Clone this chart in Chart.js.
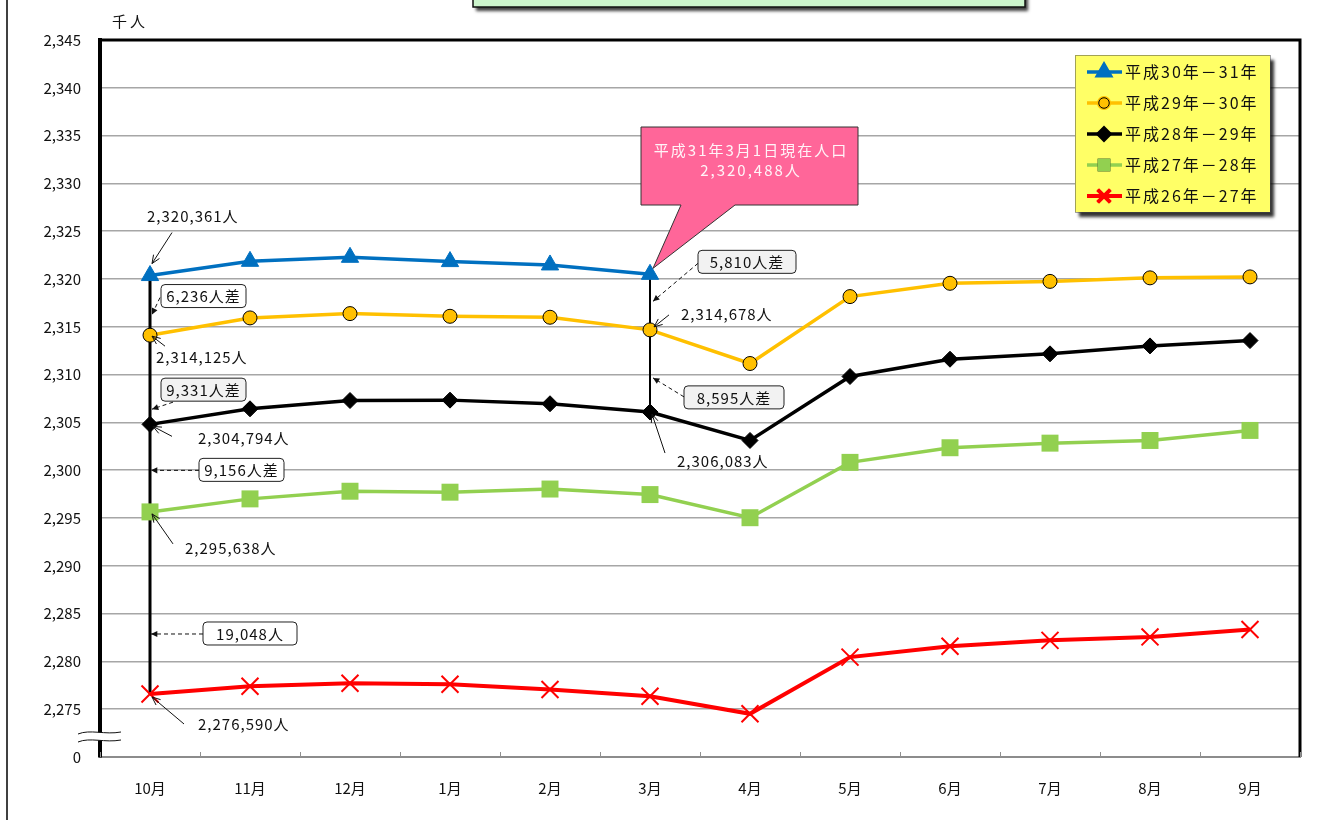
<!DOCTYPE html>
<html lang="ja">
<head>
<meta charset="utf-8">
<title>人口推移</title>
<script src="https://cdn.jsdelivr.net/npm/chart.js@4.4.1/dist/chart.umd.min.js"></script>
<style>
  body { margin: 0; background: #fff; }
  #wrap { position: relative; width: 1342px; height: 820px; }
</style>
</head>
<body>
<div id="wrap"><canvas id="line-chart"></canvas></div>
<script>
// months (Oct -> Sep)
let months = ["10月", "11月", "12月", "1月", "2月", "3月", "4月", "5月", "6月", "7月", "8月", "9月"];
// population in thousands
let h30 = [2320.361, 2321.85, 2322.27, 2321.82, 2321.47, 2320.488];
let h29 = [2314.125, 2315.93, 2316.38, 2316.10, 2316.00, 2314.678, 2311.16, 2318.16, 2319.55, 2319.75, 2320.12, 2320.22];
let h28 = [2304.794, 2306.42, 2307.29, 2307.33, 2306.95, 2306.083, 2303.11, 2309.80, 2311.61, 2312.17, 2313.00, 2313.56];
let h27 = [2295.638, 2297.00, 2297.80, 2297.70, 2298.03, 2297.45, 2295.03, 2300.82, 2302.35, 2302.83, 2303.11, 2304.16];
let h26 = [2276.590, 2277.40, 2277.72, 2277.61, 2277.06, 2276.36, 2274.52, 2280.45, 2281.58, 2282.20, 2282.56, 2283.33];
let seriesNames = ["平成30年－31年", "平成29年－30年", "平成28年－29年", "平成27年－28年", "平成26年－27年"];
let yMin = 2270;
let yMax = 2345;
let yStep = 5;

const FONT = '"Noto Sans CJK JP", "Noto Sans", sans-serif';

let fmt = (n) => n.toLocaleString("en-US");
let people = (v) => fmt(Math.round(v * 1000)) + "人";
let diff = (a, b) => fmt(Math.round((a - b) * 1000)) + "人";

function arrow(ctx, x1, y1, x2, y2, dashed) {
  ctx.save();
  ctx.strokeStyle = "#111";
  ctx.fillStyle = "#111";
  ctx.lineWidth = 1;
  ctx.setLineDash(dashed ? [4, 3] : []);
  ctx.beginPath();
  ctx.moveTo(x1, y1);
  ctx.lineTo(x2, y2);
  ctx.stroke();
  ctx.setLineDash([]);
  let a = Math.atan2(y2 - y1, x2 - x1);
  if (dashed) {
    ctx.beginPath();
    ctx.moveTo(x2, y2);
    ctx.lineTo(x2 - 7 * Math.cos(a - 0.45), y2 - 7 * Math.sin(a - 0.45));
    ctx.lineTo(x2 - 7 * Math.cos(a + 0.45), y2 - 7 * Math.sin(a + 0.45));
    ctx.closePath();
    ctx.fill();
  } else {
    ctx.beginPath();
    ctx.moveTo(x2 - 9 * Math.cos(a - 0.4), y2 - 9 * Math.sin(a - 0.4));
    ctx.lineTo(x2, y2);
    ctx.lineTo(x2 - 9 * Math.cos(a + 0.4), y2 - 9 * Math.sin(a + 0.4));
    ctx.stroke();
  }
  ctx.restore();
}

function label(ctx, text, x, y) {
  ctx.save();
  ctx.font = "15px " + FONT;
  ctx.letterSpacing = "1px";
  ctx.fillStyle = "#111";
  ctx.textAlign = "left";
  ctx.textBaseline = "middle";
  ctx.fillText(text, x, y);
  ctx.restore();
}

function box(ctx, text, x, y, w, fill) {
  ctx.save();
  ctx.fillStyle = fill;
  ctx.strokeStyle = "#222";
  ctx.lineWidth = 1;
  ctx.beginPath();
  ctx.roundRect(x, y, w, 23, 4);
  ctx.fill();
  ctx.stroke();
  ctx.font = "15px " + FONT;
  ctx.letterSpacing = "1px";
  ctx.fillStyle = "#111";
  ctx.textAlign = "center";
  ctx.textBaseline = "middle";
  ctx.fillText(text, x + w / 2, y + 12);
  ctx.restore();
}

let decorations = {
  id: "decorations",
  beforeDatasetsDraw(chart) {
    let ctx = chart.ctx;
    let xs = chart.scales.x;
    let ys = chart.scales.y;
    ctx.save();
    ctx.strokeStyle = "#000";
    ctx.lineWidth = 3;
    ctx.beginPath();
    ctx.moveTo(xs.getPixelForValue(0), ys.getPixelForValue(h30[0]));
    ctx.lineTo(xs.getPixelForValue(0), ys.getPixelForValue(h26[0]));
    ctx.stroke();
    ctx.lineWidth = 2;
    ctx.beginPath();
    ctx.moveTo(xs.getPixelForValue(5), ys.getPixelForValue(h30[5]));
    ctx.lineTo(xs.getPixelForValue(5), ys.getPixelForValue(h28[5]));
    ctx.stroke();
    ctx.restore();
  },
  afterDatasetsDraw(chart) {
    let ctx = chart.ctx;
    let xs = chart.scales.x;
    let ys = chart.scales.y;
    let area = chart.chartArea;
    let px = (i) => xs.getPixelForValue(i);
    let py = (v) => ys.getPixelForValue(v);

    // frame
    ctx.save();
    ctx.strokeStyle = "#000";
    ctx.lineWidth = 1.5;
    ctx.beginPath();
    ctx.moveTo(7, 0);
    ctx.lineTo(7, 820);
    ctx.stroke();
    ctx.lineWidth = 3;
    ctx.beginPath();
    ctx.moveTo(area.left - 2, area.top);
    ctx.lineTo(area.right, area.top);
    ctx.lineTo(area.right, area.bottom);
    ctx.stroke();
    // small ticks on the x axis
    ctx.strokeStyle = "#909090";
    ctx.lineWidth = 1;
    for (let i = 0; i <= months.length; i++) {
      let tx = Math.round(xs.getPixelForValue(i - 0.5)) + 0.5;
      ctx.beginPath();
      ctx.moveTo(tx, area.bottom);
      ctx.lineTo(tx, area.bottom - 5);
      ctx.stroke();
    }
    // axis break
    let by = area.bottom - 20;
    ctx.fillStyle = "#fff";
    ctx.beginPath();
    ctx.moveTo(78, by - 3);
    ctx.bezierCurveTo(90, by - 8, 105, by - 2, 121, by - 5);
    ctx.lineTo(121, by + 3);
    ctx.bezierCurveTo(105, by + 6, 90, by, 78, by + 5);
    ctx.closePath();
    ctx.fill();
    ctx.strokeStyle = "#111";
    ctx.lineWidth = 1;
    ctx.beginPath();
    ctx.moveTo(78, by - 3);
    ctx.bezierCurveTo(90, by - 8, 105, by - 2, 121, by - 5);
    ctx.moveTo(78, by + 5);
    ctx.bezierCurveTo(90, by, 105, by + 6, 121, by + 3);
    ctx.stroke();
    // unit
    ctx.font = "15px " + FONT;
    ctx.letterSpacing = "3px";
    ctx.fillStyle = "#111";
    ctx.textBaseline = "middle";
    ctx.fillText("千人", 112, 21);
    ctx.restore();

    // title box (cut at top)
    ctx.save();
    ctx.shadowColor = "rgba(0,0,0,0.75)";
    ctx.shadowOffsetX = 3;
    ctx.shadowOffsetY = 4;
    ctx.shadowBlur = 3;
    ctx.fillStyle = "#ccf5cc";
    ctx.fillRect(473, -10, 552, 17);
    ctx.shadowColor = "transparent";
    ctx.strokeStyle = "#111";
    ctx.lineWidth = 1.5;
    ctx.strokeRect(473, -10, 552, 17);
    ctx.restore();

    // annotations for 10月
    let x0 = px(0);
    label(ctx, people(h30[0]), x0 - 3, py(h30[0]) - 59);
    arrow(ctx, x0 + 22, py(h30[0]) - 43, x0 + 2, py(h30[0]) - 12, false);
    box(ctx, diff(h30[0], h29[0]) + "差", x0 + 11, py(h30[0]) + 9, 85, "#fff");
    arrow(ctx, x0 + 10, py(h30[0]) + 22, x0 + 2, py(h30[0]) + 39, true);
    label(ctx, people(h29[0]), x0 + 6, py(h29[0]) + 22);
    arrow(ctx, x0 + 15, py(h29[0]) + 11, x0 + 2, py(h29[0]) + 1, false);
    box(ctx, diff(h29[0], h28[0]) + "差", x0 + 11, py(h29[0]) + 43, 85, "#f2f2f2");
    arrow(ctx, x0 + 23, py(h29[0]) + 67, x0 + 2, py(h29[0]) + 74, true);
    label(ctx, people(h28[0]), x0 + 48, py(h28[0]) + 14);
    arrow(ctx, x0 + 22, py(h28[0]) + 12, x0 + 3, py(h28[0]) + 2, false);
    box(ctx, diff(h28[0], h27[0]) + "差", x0 + 49, py(h28[0]) + 34, 85, "#fff");
    arrow(ctx, x0 + 49, py(h28[0]) + 46, x0 + 1, py(h28[0]) + 46, true);
    label(ctx, people(h27[0]), x0 + 35, py(h27[0]) + 36);
    arrow(ctx, x0 + 23, py(h27[0]) + 32, x0 + 2, py(h27[0]) + 2, false);
    box(ctx, diff(h27[0], h26[0]), x0 + 53, py(h26[0]) - 72, 94, "#fff");
    arrow(ctx, x0 + 53, py(h26[0]) - 60, x0 + 1, py(h26[0]) - 60, true);
    label(ctx, people(h26[0]), x0 + 48, py(h26[0]) + 30);
    arrow(ctx, x0 + 34, py(h26[0]) + 30, x0 + 2, py(h26[0]) + 3, false);

    // annotations for 3月
    let x5 = px(5);
    box(ctx, diff(h30[5], h29[5]) + "差", x5 + 48, py(h30[5]) - 24, 98, "#f2f2f2");
    arrow(ctx, x5 + 48, py(h30[5]) - 11, x5 + 3, py(h30[5]) + 27, true);
    label(ctx, people(h29[5]), x5 + 31, py(h29[5]) - 16);
    arrow(ctx, x5 + 19, py(h29[5]) - 15, x5 + 4, py(h29[5]) - 3, false);
    box(ctx, diff(h29[5], h28[5]) + "差", x5 + 34, py(h29[5]) + 56, 100, "#f2f2f2");
    arrow(ctx, x5 + 34, py(h29[5]) + 67, x5 + 3, py(h29[5]) + 48, true);
    label(ctx, people(h28[5]), x5 + 27, py(h28[5]) + 49);
    arrow(ctx, x5 + 15, py(h28[5]) + 41, x5 + 2, py(h28[5]) + 2, false);

    // callout
    let tipX = x5 + 3;
    let tipY = py(h30[5]) - 6;
    ctx.save();
    ctx.fillStyle = "#ff6699";
    ctx.strokeStyle = "#333";
    ctx.lineWidth = 1;
    ctx.beginPath();
    ctx.moveTo(641, 127);
    ctx.lineTo(858, 127);
    ctx.lineTo(858, 205);
    ctx.lineTo(735, 205);
    ctx.lineTo(tipX, tipY);
    ctx.lineTo(681, 205);
    ctx.lineTo(641, 205);
    ctx.closePath();
    ctx.fill();
    ctx.stroke();
    ctx.font = "15px " + FONT;
    ctx.letterSpacing = "2px";
    ctx.fillStyle = "#fff4f8";
    ctx.textAlign = "center";
    ctx.textBaseline = "middle";
    ctx.fillText("平成31年3月1日現在人口", 751, 150);
    ctx.fillText(people(h30[5]), 751, 170);
    ctx.restore();

    // legend
    ctx.save();
    ctx.shadowColor = "rgba(0,0,0,0.8)";
    ctx.shadowOffsetX = 4;
    ctx.shadowOffsetY = 5;
    ctx.shadowBlur = 3;
    ctx.fillStyle = "#ffff66";
    ctx.fillRect(1075, 55, 195, 157);
    ctx.shadowColor = "transparent";
    ctx.strokeStyle = "#444";
    ctx.setLineDash([1, 1]);
    ctx.lineWidth = 1;
    ctx.strokeRect(1075.5, 55.5, 195, 157);
    ctx.setLineDash([]);
    chart.data.datasets.forEach((ds, i) => {
      let ly = 72 + i * 31;
      ctx.strokeStyle = ds.borderColor;
      ctx.lineWidth = ds.borderWidth;
      ctx.beginPath();
      ctx.moveTo(1087, ly);
      ctx.lineTo(1122, ly);
      ctx.stroke();
      Chart.helpers.drawPoint(ctx, {
        pointStyle: ds.pointStyle,
        radius: ds.pointRadius * 0.75,
        borderWidth: ds.pointBorderWidth,
        rotation: 0,
      }, 1104, ly);
      ctx.fillStyle = ds.pointBackgroundColor;
      ctx.strokeStyle = ds.pointBorderColor;
      ctx.lineWidth = ds.pointBorderWidth;
      ctx.beginPath();
      Chart.helpers.drawPoint(ctx, {
        pointStyle: ds.pointStyle,
        radius: ds.pointRadius * 0.75,
        borderWidth: ds.pointBorderWidth,
        rotation: 0,
      }, 1104, ly);
      ctx.font = "16px " + FONT;
      ctx.letterSpacing = "2px";
      ctx.fillStyle = "#111";
      ctx.textBaseline = "middle";
      ctx.fillText(ds.label, 1125, ly);
    });
    ctx.restore();
  },
};

let makeSet = (label, data, color, style, radius, extra) => Object.assign({
  label: label,
  data: data,
  borderColor: color,
  borderWidth: 3.5,
  pointStyle: style,
  pointRadius: radius,
  pointHoverRadius: radius,
  pointBackgroundColor: color,
  pointBorderColor: color,
  pointBorderWidth: 1,
  tension: 0,
}, extra || {});

let renderChart = () => {
  let canvas = document.getElementById("line-chart");
  new Chart(canvas, {
    type: "line",
    data: {
      labels: months,
      datasets: [
        makeSet(seriesNames[0], h30, "#0070c0", "triangle", 10),
        makeSet(seriesNames[1], h29, "#ffc000", "circle", 7, { pointBorderColor: "#000" }),
        makeSet(seriesNames[2], h28, "#000000", "rectRot", 8),
        makeSet(seriesNames[3], h27, "#92d050", "rect", 12, { pointBorderWidth: 0 }),
        makeSet(seriesNames[4], h26, "#ff0000", "crossRot", 12, { borderWidth: 4, pointBorderWidth: 2 }),
      ],
    },
    plugins: [decorations],
    options: {
      responsive: true,
      maintainAspectRatio: false,
      animation: false,
      events: [],
      layout: { padding: { top: 40, right: 42, left: 0, bottom: 0 } },
      plugins: {
        legend: { display: false },
        title: { display: false },
        tooltip: { enabled: false },
      },
      scales: {
        x: {
          offset: true,
          grid: { display: false },
          border: { color: "#8c8c8c", width: 2 },
          ticks: {
            color: "#111",
            padding: 14,
            font: { family: FONT, size: 15 },
          },
          afterFit: (scale) => { scale.height = 63; },
        },
        y: {
          min: yMin,
          max: yMax,
          grid: { color: "#a6a6a6", lineWidth: 1.5, drawTicks: false },
          border: { color: "#000", width: 4 },
          ticks: {
            stepSize: yStep,
            color: "#111",
            padding: 19,
            font: { family: FONT, size: 15 },
            callback: (v) => (v === yMin ? "0" : fmt(v)),
          },
          afterFit: (scale) => { scale.width = 100; },
        },
      },
    },
  });
};

renderChart();
</script>
</body>
</html>
